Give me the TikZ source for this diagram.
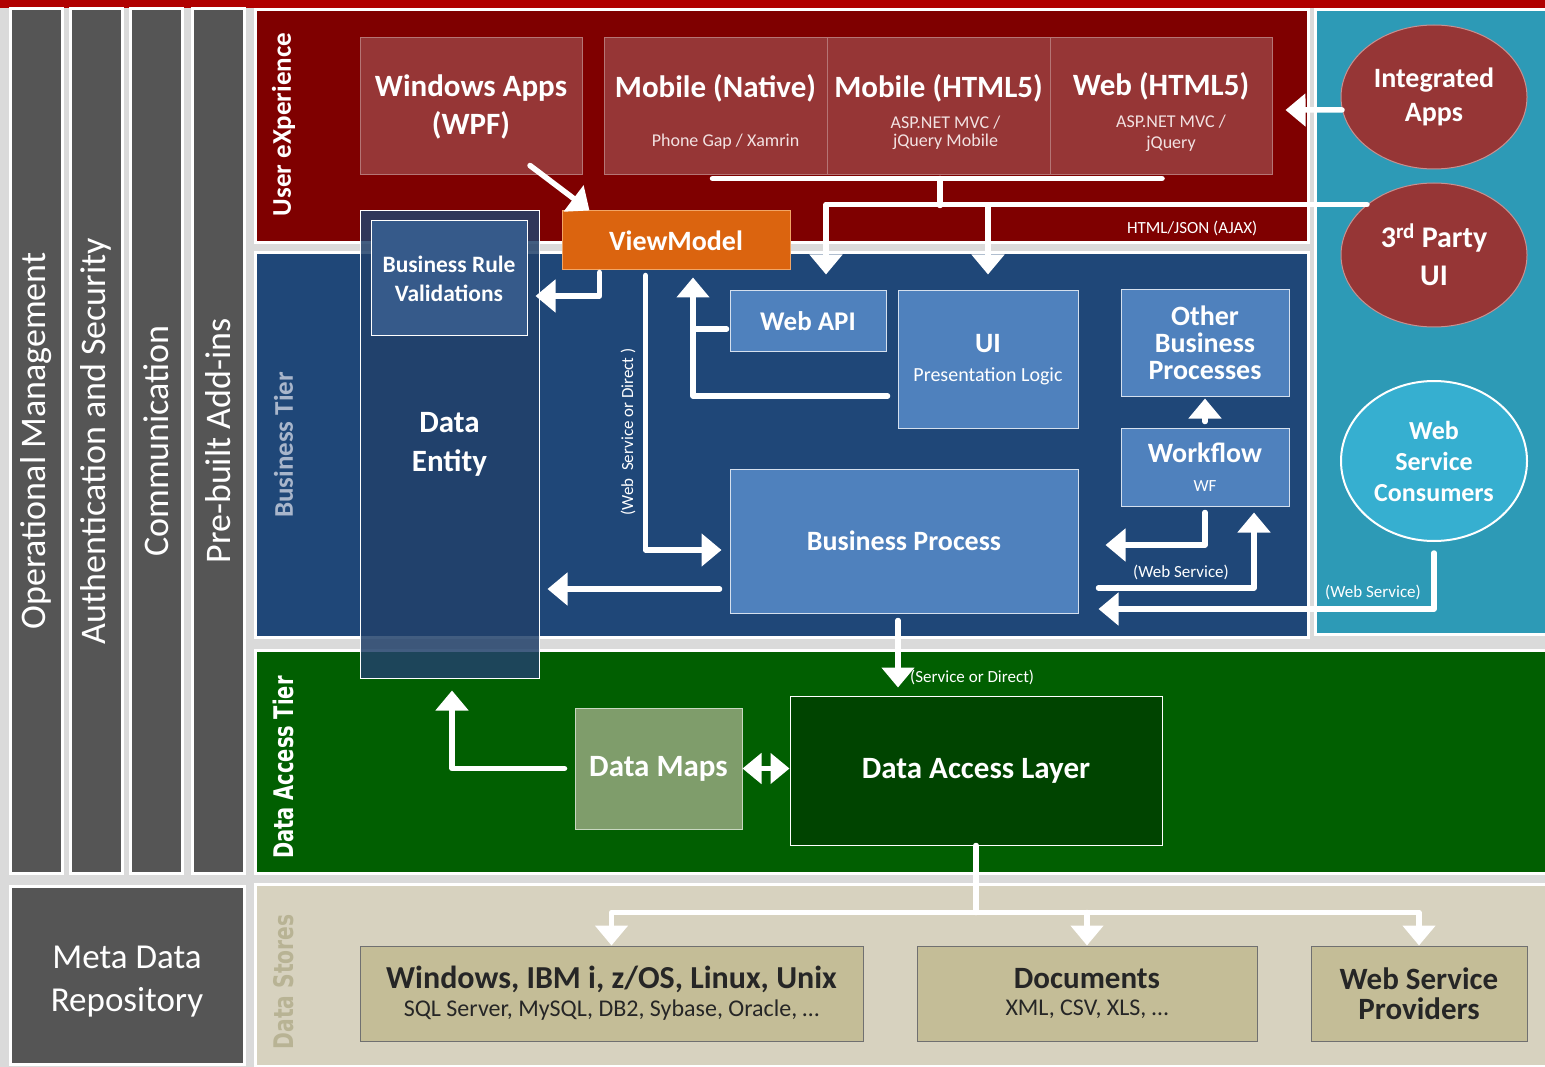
\documentclass[tikz,border=0pt]{standalone}
\usepackage{fontspec}
\setmainfont{Carlito}
\newfontfamily\verdfont{DejaVu Sans}
\usetikzlibrary{arrows.meta, calc, shapes.geometric}
\newcommand\setfs[2]{\fontsize{#1}{#2}\selectfont}

\definecolor{bgc}{HTML}{DADADA}
\definecolor{topred}{HTML}{B00000}
\definecolor{barc}{HTML}{555555}
\definecolor{uxc}{HTML}{7F0000}
\definecolor{uxboxc}{HTML}{963636}
\definecolor{uxedge}{HTML}{B57575}
\definecolor{uxsubc}{HTML}{F2E2E2}
\definecolor{bizc}{HTML}{1F4778}
\definecolor{bizboxc}{HTML}{4F81BD}
\definecolor{bizedge}{HTML}{D5E0EE}
\definecolor{extc}{HTML}{2D9AB6}
\definecolor{wscc}{HTML}{36AFD0}
\definecolor{dac}{HTML}{015F01}
\definecolor{dalc}{HTML}{004400}
\definecolor{mapc}{HTML}{7F9D6B}
\definecolor{mapedge}{HTML}{C8D8C0}
\definecolor{storec}{HTML}{D7D2BF}
\definecolor{dsboxc}{HTML}{C4BD97}
\definecolor{dsedge}{HTML}{707070}
\definecolor{dstxt}{HTML}{262626}
\definecolor{vmc}{HTML}{DB640F}
\definecolor{vmedge}{HTML}{F2A565}
\definecolor{entc}{HTML}{22416A}
\definecolor{brvc}{HTML}{365A8A}
\definecolor{tierc}{HTML}{A9B6CB}
\definecolor{storetxt}{HTML}{B8B394}
\definecolor{elledge}{HTML}{C89090}

\tikzset{
    panel/.style={draw=white, line width=3pt, inner sep=0pt}, % tier backgrounds
    bar/.style={panel, fill=barc, rotate=90, text=white, font=\setfs{36}{40}},
    tier/.style={rotate=90, inner sep=0pt, text=white, font=\bfseries\setfs{27}{30}},
    box/.style={inner sep=0pt, align=center, text=white, line width=1pt},
    uxbox/.style={box, fill=uxboxc, draw=uxedge},
    uxtitle/.style={inner sep=0pt, text=white, font=\bfseries\setfs{31}{36}},
    uxsub/.style={inner sep=0pt, align=center, text=uxsubc, font=\setfs{18}{18}},
    bizbox/.style={box, fill=bizboxc, draw=bizedge},
    dsbox/.style={box, fill=dsboxc, draw=dsedge, text=dstxt, minimum height=95pt},
    ell/.style={ellipse, box, fill=uxboxc, draw=elledge, minimum width=186pt, minimum height=144pt},
    smalltxt/.style={inner sep=0pt, text=white, font=\setfs{17}{20}},
    wline/.style={white, line width=5.5pt, line cap=round, line join=round},
    flow/.style={wline, -{Triangle[width=32pt, length=20pt]}},
    dflow/.style={wline, {Triangle[width=30pt, length=19pt]}-{Triangle[width=30pt, length=19pt]}}
}

\begin{document}
\begin{tikzpicture}[x=1pt, y=-1pt]
\useasboundingbox (0,0) rectangle (1545,1067);
\fill[bgc] (0,0) rectangle (1545,1067);
\fill[topred] (0,0) rectangle (1545,8);

% tiers
\node[panel, fill=uxc, minimum width=1053pt, minimum height=233pt] (uxp) at (781.5,126.5) {};
\node[panel, fill=bizc, minimum width=1053pt, minimum height=384pt] (bizp) at (781.5,445) {};
\node[panel, fill=extc, minimum width=240pt, minimum height=624pt] (extp) at (1435,322) {};
\node[panel, fill=dac, minimum width=1300pt, minimum height=223pt] (dap) at (905,761.5) {};
\node[panel, fill=storec, minimum width=1300pt, minimum height=182pt] (stp) at (905,975) {};

\node[tier] (uxl) at ($(uxp.west)+(30,-2)$) {User eXperience};
\node[tier, text=tierc] (bizl) at ($(bizp.west)+(30,0)$) {Business Tier};
\node[tier, font={\verdfont\bfseries\setfs{27}{30}}] (dapl) at ($(dap.west)+(30,6)$) {\scalebox{0.72}[1]{Data Access Tier}};
\node[tier, text=storetxt, font={\verdfont\bfseries\setfs{27}{30}}] (stpl) at ($(stp.west)+(30,7)$) {\scalebox{0.75}[1]{Data Stores}};

% cross-cutting bars
\node[bar, minimum width=864pt, minimum height=52pt] (opm) at (36,441) {Operational Management};
\node[bar, minimum width=864pt, minimum height=52pt] (auth) at (96,441) {Authentication and Security};
\node[bar, minimum width=864pt, minimum height=52pt] (comm) at (156,441) {Communication};
\node[bar, minimum width=864pt, minimum height=52pt] (addins) at (218,441) {Pre-built Add-ins};
\node[panel, fill=barc, minimum width=234pt, minimum height=178pt] (meta) at (127,975) {};
\node[align=center, inner sep=0pt, text=white, font=\setfs{35}{43}] (meta-t) at ($(meta)+(0,7)$) {Meta Data\\Repository};

% user experience
\node[uxbox, minimum width=222pt, minimum height=137pt, font=\bfseries\setfs{31}{38}] (winapps) at (471,106.5) {Windows Apps\\(WPF)};
\node[uxbox, minimum width=223pt, minimum height=137pt] (mobnat) at (715.5,106.5) {};
\node[uxbox, minimum width=223pt, minimum height=137pt] (mobhtml) at (938.5,106.5) {};
\node[uxbox, minimum width=222pt, minimum height=137pt] (webhtml) at (1161,106.5) {};
\node[uxtitle] (mobnat-t) at ($(mobnat)+(0,-18.5)$) {Mobile (Native)};
\node[uxsub] (mobnat-s) at ($(mobnat)+(10,35)$) {Phone Gap / Xamrin};
\node[uxtitle] (mobhtml-t) at ($(mobhtml)+(0,-18.5)$) {Mobile (HTML5)};
\node[uxsub] (mobhtml-s) at ($(mobhtml)+(7,26)$) {ASP.NET MVC /\\jQuery Mobile};
\node[uxtitle] (webhtml-t) at ($(webhtml)+(0,-20.5)$) {Web (HTML5)};
\node[uxsub, font=\setfs{18}{21}] (webhtml-s) at ($(webhtml)+(10,27)$) {ASP.NET MVC /\\jQuery};
\node[smalltxt, anchor=east] (ajaxl) at ($(uxp.south east)+(-52,-16)$) {HTML/JSON (AJAX)};

% external
\node[ell, font=\bfseries\setfs{28}{34}] (intapps) at (1434,97) {Integrated\\Apps};
\node[ell, font=\bfseries\setfs{30}{38}] (thirdui) at (1434,255) {3\textsuperscript{rd} Party\\UI};
\node[ell, fill=wscc, draw=white, line width=2pt, minimum height=160pt, font=\bfseries\setfs{26}{31}] (wsc) at (1434,461) {Web\\Service\\Consumers};

% business tier
\node[box, fill=entc, fill opacity=0.85, text opacity=1, draw=white, minimum width=179pt, minimum height=467pt, font=\bfseries\setfs{31}{39}] (dataent) at (449.5,444.5) {Data\\Entity};
\node[box, fill=brvc, draw=white, minimum width=156pt, minimum height=115pt, font=\bfseries\setfs{23.5}{29}] (brv) at (449,278.5) {Business Rule\\Validations};
\node[box, fill=vmc, draw=vmedge, minimum width=228pt, minimum height=59pt, font=\bfseries\setfs{28}{30}] (vm) at (676,240.5) {ViewModel};
\node[bizbox, minimum width=156pt, minimum height=60pt, font=\bfseries\setfs{27}{30}] (webapi) at (808,321) {Web API};
\node[bizbox, minimum width=180pt, minimum height=137pt, font=\setfs{20}{29}] (ui) at (988,359.5) {{\bfseries\setfs{28}{30}UI}\\Presentation Logic};
\node[bizbox, minimum width=168pt, minimum height=106pt, font=\bfseries\setfs{28}{27}] (obp) at (1205,343) {Other\\Business\\Processes};
\node[bizbox, minimum width=168pt, minimum height=78pt, font=\setfs{17}{29}] (wf) at (1205,467) {{\bfseries\setfs{28}{30}Workflow}\\WF};
\node[bizbox, minimum width=348pt, minimum height=144pt, font=\bfseries\setfs{28}{30}] (bp) at (904,541) {Business Process};

% data access tier
\node[box, fill=dalc, draw=white, minimum width=372pt, minimum height=149pt, font=\bfseries\setfs{31}{34}] (dal) at (976,770.5) {Data Access Layer};
\node[box, fill=mapc, draw=mapedge, minimum width=167pt, minimum height=121pt, font=\bfseries\setfs{31}{34}] (dmaps) at (658.5,768.5) {Data Maps};

% data stores
\node[dsbox, minimum width=503pt, font=\setfs{24}{28}] (ds1) at (611.5,993.5) {{\bfseries\setfs{32}{34}Windows, IBM i, z/OS, Linux, Unix}\\SQL Server, MySQL, DB2, Sybase, Oracle, …};
\node[dsbox, minimum width=340pt, font=\setfs{24}{27}] (ds2) at (1087,993.5) {{\bfseries\setfs{31}{34}Documents}\\XML, CSV, XLS, …};
\node[dsbox, minimum width=216pt, font=\bfseries\setfs{31}{30}] (ds3) at (1419,993.5) {Web Service\\Providers};

% connectors
\draw[flow] ($(winapps.south)+(59,-10)$) -- ($(vm.north west)+(28,0)$);
\coordinate (ajax) at ($(mobhtml.south)+(1.5,30)$);
\draw[wline] ($(mobnat.south)+(-3,3)$) -- ($(webhtml.south)+(1,3)$);
\draw[wline] ($(mobhtml.south)+(1.5,3)$) -- (ajax);
\draw[flow] (thirdui.143) -| ($(webapi.north)+(18,-16)$);
\draw[flow] (ajax -| ui.north) -- ($(ui.north)+(0,-16)$);
\draw[flow] (intapps.188) -- ($(webhtml.east)+(13,3.5)$);

\draw[flow] ($(vm.south west)+(38,2)$) |- ($(brv.east)+(8,17.5)$);
\draw[flow] ($(vm.south west)+(84,5)$) |- ($(bp.west)+(-8,9)$);
\node[smalltxt, rotate=90] (wsdl) at (628,432) {(Web\ \ Service or Direct )};
\coordinate (vmin) at ($(vm.south)+(17,7)$);
\draw[flow] ($(ui.west)+(-10,36.5)$) -| (vmin);
\draw[wline] ($(webapi.west)+(-3,8)$) coordinate (apil) -- (apil -| vmin);
\coordinate (bpout) at ($(bp.west)+(-10,48)$);
\draw[flow] (bpout) -- ($(bpout -| dataent.east)+(8,0)$);

\draw[flow] ($(wf.north)+(0,-6)$) -- ($(obp.south)+(0,2)$);
\draw[flow] ($(wf.south)+(0,6)$) |- ($(bp.east)+(27,4)$);
\draw[flow] ($(bp.east)+(20,47)$) -| ($(wf.south)+(49,6)$);
\node[smalltxt] (wsl) at (1181,572) {(Web Service)};
\draw[flow] ($(wsc.south)+(0,11)$) |- ($(bp.east)+(20,68)$);
\node[smalltxt] (wscl) at (1373,592) {(Web Service)};

\draw[flow] ($(bp.south)+(-6,7)$) -- ($(dal.north)+(-78,-8)$);
\node[smalltxt, anchor=west] (sodl) at (910,677) {(Service or Direct)};
\draw[dflow] (dmaps.east) -- (dmaps.east -| dal.west);
\draw[flow] ($(dmaps.west)+(-10,0)$) -| ($(dataent.south)+(2.5,12)$);

\coordinate (dsbus) at ($(dal.south)+(0,67)$);
\draw[wline] (dal.south) -- (dsbus);
\draw[flow] (dsbus) -| (ds1.north);
\draw[flow] (dsbus) -| (ds3.north);
\draw[flow] (dsbus -| ds2.north) -- (ds2.north);
\end{tikzpicture}
\end{document}
